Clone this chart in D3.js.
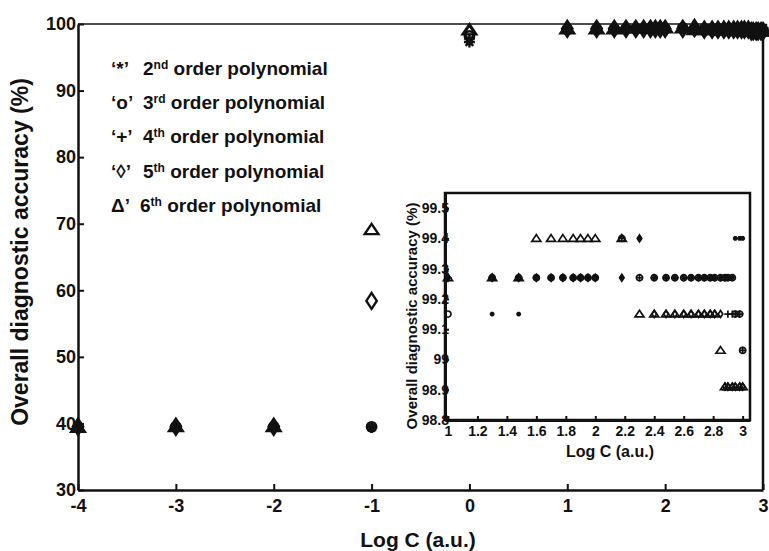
<!DOCTYPE html>
<html>
<head>
<meta charset="utf-8">
<script src="https://cdn.jsdelivr.net/npm/d3@7"></script>
<style>
    body { margin: 0; background: #fff; }
    text { font-family: "Liberation Sans", Arial, sans-serif; font-weight: bold; fill: #111; }
</style>
</head>
<body>
<script>
// log C values below the inset range (main plot only)
const lowLogC = [-4, -3, -2, -1, 0];
// log C values from C = 10 ... 1000 (shown in both plots)
const highLogC = [1, 1.30, 1.48, 1.60, 1.70, 1.78, 1.85, 1.90, 1.95, 2.00, 2.18, 2.30, 2.40, 2.48,
    2.54, 2.60, 2.65, 2.70, 2.74, 2.78, 2.81, 2.85, 2.88, 2.90, 2.93, 2.95, 2.98, 3.00];

// overall diagnostic accuracy (%) per polynomial order
const low2 = [39.5, 39.5, 39.5, 39.4, 97.3];
const low3 = [39.4, 39.5, 39.5, 39.5, 98.2];
const low4 = [39.5, 39.4, 39.6, 39.4, 97.8];
const low5 = [39.5, 39.5, 39.5, 58.4, 98.6];
const low6 = [39.4, 39.5, 39.5, 69.1, 99.1];

const high2 = [99.27, 99.15, 99.15, 99.27, 99.27, 99.27, 99.27, 99.27, 99.27, 99.27, 99.27, 99.40, 99.27, 99.27,
    99.27, 99.27, 99.27, 99.27, 99.27, 99.27, 99.27, 99.27, 99.27, 99.27, 99.27, 99.40, 99.40, 99.40];
const high3 = [99.15, 99.27, 99.27, 99.27, 99.27, 99.27, 99.27, 99.27, 99.27, 99.27, 99.40, 99.27, 99.27, 99.27,
    99.27, 99.27, 99.27, 99.27, 99.27, 99.27, 99.27, 99.27, 99.27, 99.27, 99.27, 99.15, 99.15, 99.03];
const high4 = [99.27, 99.27, 99.27, 99.27, 99.27, 99.27, 99.27, 99.27, 99.27, 99.27, 99.40, 99.27, 99.27, 99.27,
    99.27, 99.27, 99.27, 99.27, 99.27, 99.27, 99.27, 99.27, 99.27, 99.15, 99.15, 99.15, 99.15, 99.03];
const high5 = [99.27, 99.27, 99.27, 99.27, 99.27, 99.27, 99.27, 99.27, 99.27, 99.27, 99.27, 99.40, 99.15, 99.15,
    99.15, 99.15, 99.15, 99.15, 99.15, 99.15, 99.15, 99.15, 98.91, 98.91, 98.91, 98.91, 98.91, 98.91];
const high6 = [99.27, 99.27, 99.27, 99.40, 99.40, 99.40, 99.40, 99.40, 99.40, 99.40, 99.40, 99.15, 99.15, 99.15,
    99.15, 99.15, 99.15, 99.15, 99.15, 99.15, 99.15, 99.03, 98.91, 98.91, 98.91, 98.91, 98.91, 98.91];

const markers = ["star", "circle", "plus", "diamond", "triangle"];
const orders = ["2", "3", "4", "5", "6"];
const sups = ["nd", "rd", "th", "th", "th"];
const prefixes = ["\u2018*\u2019", "\u2018o\u2019", "\u2018+\u2019", "\u2018\u25CA\u2019", "\u0394\u2019"];

const mainXTicks = [-4, -3, -2, -1, 0, 1, 2, 3];
const mainYTicks = [30, 40, 50, 60, 70, 80, 90, 100];
const insetXTicks = [1, 1.2, 1.4, 1.6, 1.8, 2, 2.2, 2.4, 2.6, 2.8, 3];
const insetYTicks = [98.8, 98.9, 99, 99.1, 99.2, 99.3, 99.4, 99.5];

const lows = [low2, low3, low4, low5, low6];
const highs = [high2, high3, high4, high5, high6];

// marker outline paths, s = half size
function markerPath(type, s) {
    const p = d3.path();
    switch (type) {
        case "star": {
            const k = s * 0.7;
            p.moveTo(-s, 0); p.lineTo(s, 0);
            p.moveTo(0, -s); p.lineTo(0, s);
            p.moveTo(-k, -k); p.lineTo(k, k);
            p.moveTo(-k, k); p.lineTo(k, -k);
            break;
        }
        case "plus":
            p.moveTo(-s, 0); p.lineTo(s, 0);
            p.moveTo(0, -s); p.lineTo(0, s);
            break;
        case "circle":
            p.moveTo(s * 0.85, 0);
            p.arc(0, 0, s * 0.85, 0, 2 * Math.PI);
            break;
        case "diamond":
            p.moveTo(0, -s * 1.45); p.lineTo(s * 0.95, 0); p.lineTo(0, s * 1.45); p.lineTo(-s * 0.95, 0);
            p.closePath();
            break;
        case "triangle":
            p.moveTo(0, -s * 1.05); p.lineTo(s * 1.25, s * 0.8); p.lineTo(-s * 1.25, s * 0.8);
            p.closePath();
            break;
    }
    return p.toString();
}

const svg = d3.select("body").append("svg")
    .attr("width", 769)
    .attr("height", 551);

// ---------- main plot ----------
const x = d3.scaleLinear().domain([-4, 3]).range([78, 763]);
const y = d3.scaleLinear().domain([30, 100]).range([490, 24]);

// frame top and right
svg.append("line").attr("x1", x(-4)).attr("x2", x(3)).attr("y1", y(100)).attr("y2", y(100))
    .attr("stroke", "#111").attr("stroke-width", 1.5);
svg.append("line").attr("x1", x(3)).attr("x2", x(3)).attr("y1", y(100)).attr("y2", y(30))
    .attr("stroke", "#111").attr("stroke-width", 2.5);

const xAxis = svg.append("g")
    .attr("transform", `translate(0,${y(30)})`)
    .call(d3.axisBottom(x).tickValues(mainXTicks).tickFormat(d => String(d))
        .tickSizeInner(-6).tickSizeOuter(0).tickPadding(9));
const yAxis = svg.append("g")
    .attr("transform", `translate(${x(-4)},0)`)
    .call(d3.axisLeft(y).tickValues(mainYTicks).tickFormat(d => String(d))
        .tickSizeInner(-6).tickSizeOuter(0).tickPadding(2));

[xAxis, yAxis].forEach(a => {
    a.select(".domain").attr("stroke", "#111").attr("stroke-width", 2.5);
    a.selectAll(".tick line").attr("stroke", "#111").attr("stroke-width", 2);
    a.selectAll(".tick text").attr("font-size", 18).attr("font-family", null).attr("fill", "#111");
});

svg.append("text")
    .attr("x", 418).attr("y", 547)
    .attr("text-anchor", "middle").attr("font-size", 21)
    .text("Log C (a.u.)");

svg.append("text")
    .attr("transform", "translate(28,252) rotate(-90)")
    .attr("text-anchor", "middle").attr("font-size", 23)
    .text("Overall diagnostic accuracy (%)");

// legend as plain text lines
const legend = svg.append("g");
orders.forEach((o, i) => {
    const t = legend.append("text")
        .attr("x", 111).attr("y", 75 + i * 34.2)
        .attr("font-size", 19);
    t.append("tspan").text(prefixes[i]);
    t.append("tspan").attr("x", 143 - (i === 4 ? 3 : 0)).text(o);
    t.append("tspan").attr("font-size", 12).attr("dy", -6).text(sups[i]);
    t.append("tspan").attr("dy", 6).text(" order polynomial");
});

// main data markers
const mainPts = svg.append("g").attr("fill", "none").attr("stroke", "#111").attr("stroke-width", 2.4);
highs.forEach((vals, s) => {
    const all = lowLogC.map((c, i) => [c, lows[s][i]]).concat(highLogC.map((c, i) => [c, vals[i]]));
    mainPts.selectAll(null)
        .data(all)
        .enter().append("path")
        .attr("transform", d => `translate(${x(d[0])},${y(d[1])})`)
        .attr("d", markerPath(markers[s], 5.5));
});

// ---------- inset ----------
const xi = d3.scaleLinear().domain([0.98, 3.05]).range([445, 750]);
const yi = d3.scaleLinear().domain([98.8, 99.55]).range([420, 193]);

svg.append("rect")
    .attr("x", xi(0.98)).attr("y", yi(99.55))
    .attr("width", xi(3.05) - xi(0.98)).attr("height", yi(98.8) - yi(99.55))
    .attr("fill", "#fff").attr("stroke", "#111").attr("stroke-width", 2.5);

const xiAxis = svg.append("g")
    .attr("transform", `translate(0,${yi(98.8)})`)
    .call(d3.axisBottom(xi).tickValues(insetXTicks).tickFormat(d => String(+d.toFixed(1)))
        .tickSizeInner(-4).tickSizeOuter(0).tickPadding(6));
const yiAxis = svg.append("g")
    .attr("transform", `translate(${xi(0.98)},0)`)
    .call(d3.axisLeft(yi).tickValues(insetYTicks).tickFormat(d => String(+d.toFixed(1)))
        .tickSizeInner(-4).tickSizeOuter(0).tickPadding(-4));

[xiAxis, yiAxis].forEach(a => {
    a.select(".domain").attr("stroke", "#111").attr("stroke-width", 3);
    a.selectAll(".tick line").attr("stroke", "#111").attr("stroke-width", 2);
    a.selectAll(".tick text").attr("font-size", 14).attr("font-family", null).attr("fill", "#111");
});

svg.append("text")
    .attr("x", 610).attr("y", 457)
    .attr("text-anchor", "middle").attr("font-size", 16)
    .text("Log C (a.u.)");

svg.append("text")
    .attr("transform", "translate(417,316) rotate(-90)")
    .attr("text-anchor", "middle").attr("font-size", 15)
    .text("Overall diagnostic accuracy (%)");

const insetPts = svg.append("g").attr("fill", "none").attr("stroke", "#111").attr("stroke-width", 1.7);
highs.forEach((vals, s) => {
    insetPts.selectAll(null)
        .data(highLogC.map((c, i) => [c, vals[i]]))
        .enter().append("path")
        .attr("transform", d => `translate(${xi(d[0])},${yi(d[1])})`)
        .attr("d", markerPath(markers[s], s === 0 || s === 3 ? 2.4 : 3.6));
});
</script>
</body>
</html>
